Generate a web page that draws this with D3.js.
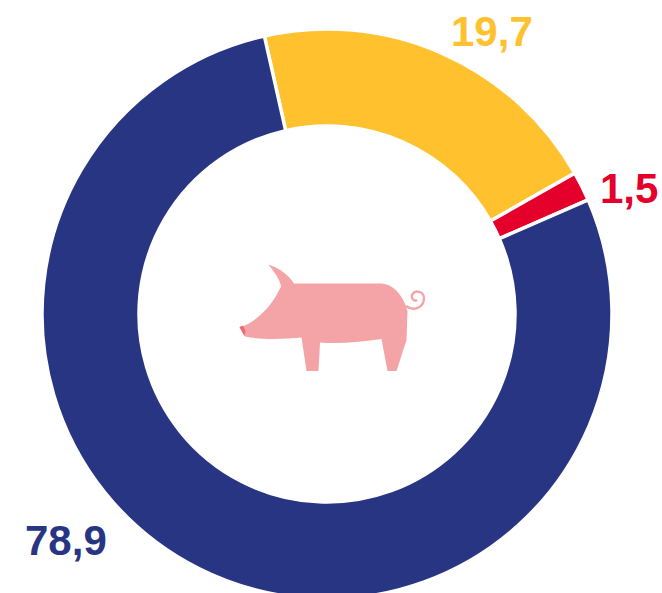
<!DOCTYPE html>
<html><head><meta charset="utf-8">
<script src="https://cdn.jsdelivr.net/npm/d3@7"></script>
<style>html,body{margin:0;padding:0;background:#fff;overflow:hidden}svg{display:block}
text{font-family:"Liberation Sans",Arial,sans-serif;font-weight:700;font-size:42px}</style>
</head><body><svg id="c" width="662" height="593"></svg>
<script>
const categories = ["yellow", "red", "blue"];
const labelValues = ["19,7", "1,5", "78,9"];
const drawnShares = [20.3, 1.67, 78.03];
const colors = ["#FFC12D", "#E4002B", "#283583"];
const labelAnchors = [[451, 46], [600, 203], [25, 555]];

const W = 662, H = 593, cx = 327, cy = 314, outerR = 285, innerR = 188;
const svg = d3.select("#c").attr("viewBox", [0, 0, W, H]);
const g = svg.append("g").attr("transform", `translate(${cx},${cy})`);
const startAngle = -12.7 * Math.PI / 180;
const pie = d3.pie().sort(null).startAngle(startAngle).endAngle(startAngle + 2 * Math.PI);
const arc = d3.arc().innerRadius(innerR).outerRadius(outerR);
g.selectAll("path").data(pie(drawnShares)).join("path")
  .attr("d", arc).attr("fill", (d, i) => colors[i])
  .attr("stroke", "#fff").attr("stroke-width", 3.5);

svg.selectAll("text.v").data(labelValues).join("text").attr("class", "v")
  .attr("x", (d, i) => labelAnchors[i][0]).attr("y", (d, i) => labelAnchors[i][1])
  .attr("fill", (d, i) => colors[i]).text(d => d);

// pig icon
const pig = svg.append("g");
pig.append("path").attr("fill", "#F4A4A6").attr("d",
 "M268.5 264.5 C279 268 289 275 294 283.5 L381 283.5 C394 284 404 297 407.5 311 L406.5 340 L396.5 371 L387.5 371 L381.5 339 C362 342 340 344 320 342.5 L318.5 371 L306.5 371 L301.5 337.5 C285 339 262 340 245 336.5 L239.5 327.5 C257 322 272 306 281 286.5 C280 279 274 272 268.5 264.5 Z");
pig.append("path").attr("fill", "none").attr("stroke", "#F4A4A6").attr("stroke-width", 2.4).attr("d",
 "M406 306 C412 311 423 309 424 299 C424.5 292 416 289 412.5 294 C410.5 298 414 302 417 300");
pig.append("path").attr("fill", "#EE6A72").attr("d", "M239.5 327 L243 325.5 L245.5 331 L244.5 336 Z");
</script></body></html>
